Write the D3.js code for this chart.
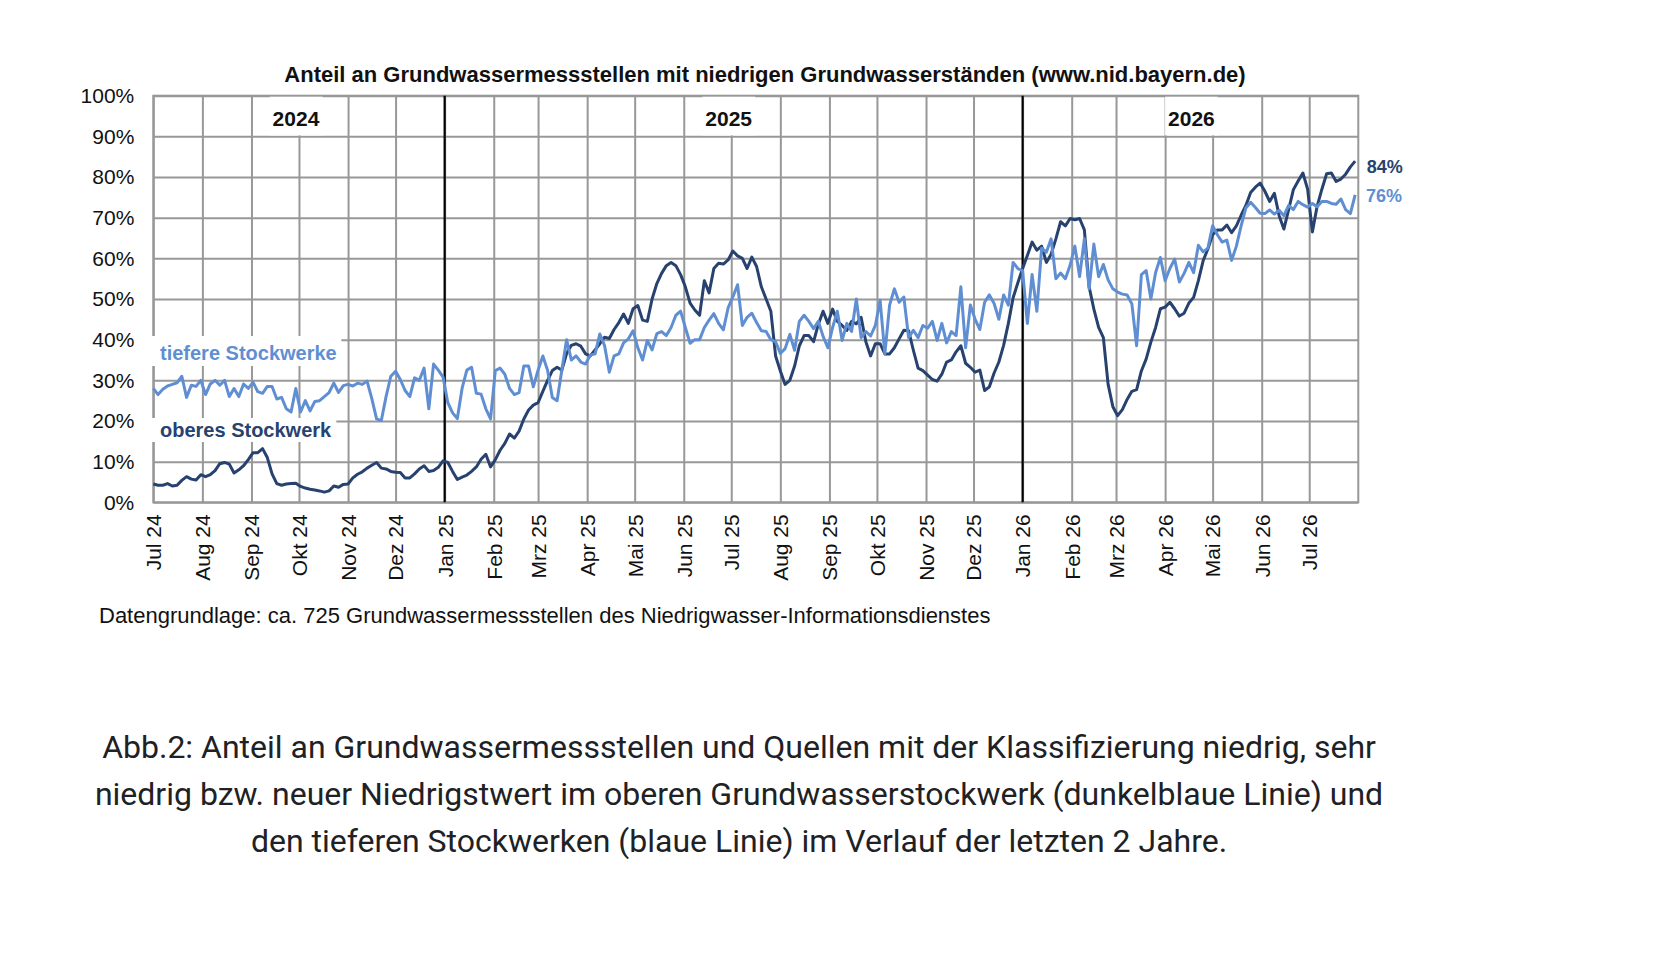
<!DOCTYPE html>
<html>
<head>
<meta charset="utf-8">
<script src="https://cdn.jsdelivr.net/npm/d3@7/dist/d3.min.js"></script>
<style>
  body { margin: 0; background: #fff; }
  svg { display: block; }
</style>
</head>
<body>
<div id="chart"></div>
<script>
// one value every 3 days, starting 1 July 2024 (share of stations in %)
const startDate = '2024-07-01';
const stepDays = 3;

const oberesStockwerk = [
  4.5, 4.2, 4.2, 4.6, 4.0, 4.2, 5.4, 6.3, 5.7, 5.5,
  6.8, 6.3, 6.8, 7.8, 9.5, 9.8, 9.4, 7.2, 8.0, 9.0,
  10.5, 12.2, 12.2, 13.2, 11.0, 7.0, 4.6, 4.2, 4.5, 4.6,
  4.7, 3.9, 3.5, 3.2, 3.0, 2.8, 2.5, 2.8, 4.0, 3.7,
  4.4, 4.5, 6.0, 6.9, 7.5, 8.4, 9.1, 9.8, 8.4, 8.2,
  7.6, 7.4, 7.3, 6.0, 6.0, 7.0, 8.2, 9.0, 7.6, 7.8,
  8.6, 10.2, 9.8, 7.6, 5.6, 6.2, 6.7, 7.6, 8.7, 10.6,
  11.8, 8.7, 10.5, 12.8, 14.5, 16.8, 15.8, 17.5, 20.5, 22.7,
  23.9, 24.5, 27.3, 30.0, 32.4, 33.2, 32.5, 36.6, 38.6, 39.0,
  38.4, 36.5, 36.0, 37.5, 39.0, 40.6, 40.3, 42.5, 44.2, 46.3,
  44.0, 47.6, 48.4, 44.8, 44.5, 50.0, 53.8, 56.3, 58.2, 59.0,
  58.2, 56.0, 53.0, 49.0, 47.3, 46.0, 54.5, 51.5, 57.5, 58.8,
  58.6, 59.6, 61.8, 60.6, 60.0, 57.5, 60.3, 58.0, 53.0, 50.0,
  47.0, 36.0, 32.3, 29.0, 30.0, 33.5, 38.5, 41.0, 41.0, 39.5,
  43.8, 47.0, 44.0, 47.5, 44.5, 43.5, 42.3, 44.5, 43.9, 45.5,
  39.5, 36.0, 39.0, 39.0, 36.5, 36.5, 38.0, 40.2, 42.3, 42.2,
  37.4, 33.0, 32.4, 31.3, 30.2, 29.8, 31.5, 34.5, 35.0, 37.0,
  38.5, 34.2, 33.2, 32.0, 32.5, 27.5, 28.4, 31.8, 34.5, 38.6,
  44.0, 50.3, 54.0, 57.5, 60.7, 64.0, 62.0, 63.0, 59.0, 61.0,
  64.8, 69.0, 68.0, 69.8, 69.5, 69.8, 67.0, 53.0, 47.5, 43.0,
  40.5, 29.0, 23.5, 21.3, 22.8, 25.3, 27.3, 27.7, 32.3, 35.2,
  39.4, 43.0, 47.6, 48.0, 49.2, 47.6, 45.8, 46.5, 49.0, 50.4,
  54.5, 59.4, 62.3, 65.8, 67.0, 67.0, 68.2, 66.3, 68.0, 70.6,
  73.0, 76.2, 77.5, 78.5, 76.5, 74.0, 76.0, 70.5, 67.2, 72.0,
  76.9, 79.0, 81.0, 77.0, 66.5, 72.8, 77.0, 80.8, 81.0, 78.9,
  79.5, 80.7, 82.5, 83.9
];

const tiefereStockwerke = [
  28.0, 26.5, 27.8, 28.6, 29.0, 29.4, 31.0, 25.8, 28.8, 28.5,
  30.0, 26.5, 29.1, 30.0, 28.8, 30.0, 26.0, 28.0, 26.0, 29.1,
  28.0, 29.5, 27.2, 26.8, 28.5, 28.5, 25.4, 25.8, 23.0, 22.2,
  28.0, 22.2, 25.0, 22.5, 24.8, 25.0, 26.0, 27.0, 29.3, 27.0,
  28.7, 29.0, 28.6, 29.3, 29.0, 29.8, 25.5, 20.5, 20.1, 26.0,
  31.0, 32.2, 30.2, 27.5, 26.0, 30.6, 30.0, 33.0, 23.0, 34.0,
  32.5, 30.8, 24.5, 22.0, 20.6, 28.0, 32.5, 33.2, 26.8, 26.6,
  23.0, 20.5, 32.4, 33.0, 31.5, 28.0, 26.5, 27.0, 33.5, 33.5,
  28.4, 32.5, 36.0, 32.5, 25.8, 25.0, 32.5, 40.0, 35.0, 36.0,
  34.5, 34.0, 36.2, 36.5, 41.4, 38.5, 32.0, 36.0, 36.5, 39.2,
  40.2, 42.2, 38.0, 35.0, 39.8, 37.5, 41.5, 42.0, 41.0, 43.0,
  46.0, 47.0, 43.0, 39.1, 40.0, 40.0, 43.0, 44.8, 46.4, 44.0,
  42.4, 47.8, 50.5, 53.5, 43.5, 45.5, 46.5, 44.2, 42.2, 42.0,
  40.0, 39.5, 36.6, 37.8, 41.3, 37.4, 44.5, 46.0, 44.5, 42.7,
  44.5, 40.8, 38.0, 43.0, 47.0, 39.8, 44.0, 42.0, 50.0, 40.5,
  42.0, 40.9, 43.5, 49.7, 36.5, 48.5, 52.5, 49.2, 50.5, 40.5,
  42.3, 40.5, 43.5, 42.8, 44.5, 39.8, 44.0, 39.2, 42.0, 41.0,
  53.0, 38.0, 48.5, 45.0, 42.5, 49.2, 51.0, 48.9, 45.0, 51.0,
  48.5, 59.0, 57.5, 57.0, 44.0, 56.0, 47.0, 62.5, 61.5, 64.8,
  55.0, 56.4, 55.0, 58.3, 63.0, 55.5, 64.8, 52.5, 63.5, 55.5,
  58.5, 54.7, 52.5, 51.7, 51.2, 51.0, 48.8, 38.5, 56.0, 57.0,
  50.0, 56.5, 60.2, 54.5, 57.5, 59.8, 54.2, 56.3, 59.0, 56.5,
  63.2, 61.6, 62.5, 68.0, 65.8, 64.0, 64.5, 59.5, 63.0, 68.0,
  72.4, 73.8, 72.5, 71.1, 71.0, 71.9, 70.9, 71.8, 70.5, 73.0,
  72.0, 74.0, 73.2, 72.6, 73.5, 72.7, 74.0, 74.0, 73.5, 73.3,
  74.6, 72.0, 71.0, 75.6
];

const monthLabels = [
  'Jul 24', 'Aug 24', 'Sep 24', 'Okt 24', 'Nov 24', 'Dez 24',
  'Jan 25', 'Feb 25', 'Mrz 25', 'Apr 25', 'Mai 25', 'Jun 25',
  'Jul 25', 'Aug 25', 'Sep 25', 'Okt 25', 'Nov 25', 'Dez 25',
  'Jan 26', 'Feb 26', 'Mrz 26', 'Apr 26', 'Mai 26', 'Jun 26', 'Jul 26'
];
const yTicks = [0, 10, 20, 30, 40, 50, 60, 70, 80, 90, 100];
const yearLabels = ['2024', '2025', '2026'];
const yearBreaks = ['2025-01-01', '2026-01-01'];
const axisStart = '2024-07-01';
const axisEnd = '2026-08-01';

const titleText = 'Anteil an Grundwassermessstellen mit niedrigen Grundwasserständen (www.nid.bayern.de)';
const sourceText = 'Datengrundlage: ca. 725 Grundwassermessstellen des Niedrigwasser-Informationsdienstes';
const captionLines = [
  'Abb.2: Anteil an Grundwassermessstellen und Quellen mit der Klassifizierung niedrig, sehr',
  'niedrig bzw. neuer Niedrigstwert im oberen Grundwasserstockwerk (dunkelblaue Linie) und',
  'den tieferen Stockwerken (blaue Linie) im Verlauf der letzten 2 Jahre.'
];

const darkBlue = '#27426f';
const lightBlue = '#5f8fd2';
const gridColor = '#989898';
const chartFont = '"Liberation Sans", Arial, sans-serif';

const margin = { top: 95.7, right: 317.7, bottom: 453.7, left: 153.3 };
const fullWidth = 1676;
const fullHeight = 956;
const width = fullWidth - margin.left - margin.right;
const height = fullHeight - margin.top - margin.bottom;

const parse = d3.utcParse('%Y-%m-%d');
const t0 = parse(startDate);
const rows = oberesStockwerk.map((v, i) => ({
  date: d3.utcDay.offset(t0, i * stepDays),
  oben: v,
  tief: tiefereStockwerke[i]
}));

const svg = d3
  .select('#chart')
  .append('svg')
  .attr('width', fullWidth)
  .attr('height', fullHeight);

const group = svg
  .append('g')
  .attr('transform', 'translate(' + margin.left + ',' + margin.top + ')');

const x = d3.scaleUtc().domain([parse(axisStart), parse(axisEnd)]).range([0, width]);
const y = d3.scaleLinear().domain([0, 100]).range([height, 0]);

const monthTicks = d3.utcMonth.range(parse(axisStart), parse(axisEnd));

// vertical grid + rotated month labels
group
  .append('g')
  .attr('transform', `translate(0, ${height})`)
  .call(
    d3.axisBottom(x)
      .tickValues(monthTicks)
      .tickSize(-height)
      .tickFormat((d, i) => monthLabels[i])
  )
  .call((g) => g.select('.domain').remove())
  .call((g) => g.selectAll('.tick line').attr('stroke', gridColor).attr('stroke-width', 2))
  .call((g) =>
    g.selectAll('.tick text')
      .attr('transform', 'rotate(-90)')
      .attr('x', -12)
      .attr('y', 0)
      .attr('dy', '0.35em')
      .attr('text-anchor', 'end')
      .attr('fill', '#111')
      .style('font', `21px ${chartFont}`)
  );

// horizontal grid + percent labels
group
  .append('g')
  .call(
    d3.axisLeft(y)
      .tickValues(yTicks)
      .tickSize(-width)
      .tickPadding(19)
      .tickFormat((d) => d + '%')
  )
  .call((g) => g.select('.domain').remove())
  .call((g) => g.selectAll('.tick line').attr('stroke', gridColor).attr('stroke-width', 2))
  .call((g) =>
    g.selectAll('.tick text')
      .attr('fill', '#111')
      .style('font', `21px ${chartFont}`)
  );

// plot border
group
  .append('rect')
  .attr('width', width)
  .attr('height', height)
  .attr('fill', 'none')
  .attr('stroke', gridColor)
  .attr('stroke-width', 2);

// black year separators
group
  .append('g')
  .selectAll('line')
  .data(yearBreaks)
  .join('line')
  .attr('x1', (d) => x(parse(d)))
  .attr('x2', (d) => x(parse(d)))
  .attr('y1', 0)
  .attr('y2', height)
  .attr('stroke', '#000')
  .attr('stroke-width', 2.2);

// year labels on white boxes
const bounds = [axisStart].concat(yearBreaks, [axisEnd]).map(parse);
const yearNudge = [-3, -5, 1];
yearLabels.forEach((label, i) => {
  const cx = (x(bounds[i]) + x(bounds[i + 1])) / 2 + yearNudge[i];
  const yg = group.append('g');
  const box = yg.append('rect').attr('fill', '#fff');
  const t = yg
    .append('text')
    .attr('x', cx)
    .attr('y', 30.3)
    .attr('text-anchor', 'middle')
    .attr('fill', '#111')
    .style('font', `bold 21px ${chartFont}`)
    .text(label);
  const bb = t.node().getBBox();
  box
    .attr('x', bb.x - 3)
    .attr('y', 1)
    .attr('width', bb.width + 6)
    .attr('height', y(90) - 2);
});

// series labels on white boxes
const seriesLabels = [
  { text: 'tiefere Stockwerke', color: lightBlue, base: 264.3, boxTop: 240.3, boxH: 30, boxW: 192 },
  { text: 'oberes Stockwerk', color: darkBlue, base: 341.3, boxTop: 322.3, boxH: 24, boxW: 187 }
];
seriesLabels.forEach((s) => {
  group
    .append('rect')
    .attr('x', -4)
    .attr('y', s.boxTop)
    .attr('width', s.boxW)
    .attr('height', s.boxH)
    .attr('fill', '#fff');
  group
    .append('text')
    .attr('x', 6.7)
    .attr('y', s.base)
    .attr('fill', s.color)
    .style('font', `bold 20px ${chartFont}`)
    .text(s.text);
});

// the two lines
const lineOben = d3.line().x((d) => x(d.date)).y((d) => y(d.oben));
const lineTief = d3.line().x((d) => x(d.date)).y((d) => y(d.tief));

group
  .append('path')
  .datum(rows)
  .attr('fill', 'none')
  .attr('stroke', darkBlue)
  .attr('stroke-width', 3)
  .attr('stroke-linejoin', 'round')
  .attr('d', lineOben);

group
  .append('path')
  .datum(rows)
  .attr('fill', 'none')
  .attr('stroke', lightBlue)
  .attr('stroke-width', 3)
  .attr('stroke-linejoin', 'round')
  .attr('d', lineTief);

// end values
const last = rows[rows.length - 1];
group
  .append('text')
  .attr('x', width + 8.4)
  .attr('y', y(Math.round(last.oben)) + 6)
  .attr('dy', '0.35em')
  .attr('fill', darkBlue)
  .style('font', `bold 18px ${chartFont}`)
  .text(Math.round(last.oben) + '%');
group
  .append('text')
  .attr('x', width + 7.7)
  .attr('y', y(Math.round(last.tief)) + 2)
  .attr('dy', '0.35em')
  .attr('fill', lightBlue)
  .style('font', `bold 18px ${chartFont}`)
  .text(Math.round(last.tief) + '%');

// title and source line
svg
  .append('text')
  .attr('x', 765)
  .attr('y', 82)
  .attr('text-anchor', 'middle')
  .attr('fill', '#111')
  .style('font', `bold 22px ${chartFont}`)
  .text(titleText);

svg
  .append('text')
  .attr('x', 99)
  .attr('y', 622.5)
  .attr('fill', '#111')
  .style('font', `22px ${chartFont}`)
  .text(sourceText);

// figure caption below the chart image
svg
  .append('g')
  .selectAll('text')
  .data(captionLines)
  .join('text')
  .attr('x', 739)
  .attr('y', (d, i) => 758 + i * 47)
  .attr('text-anchor', 'middle')
  .attr('fill', '#202124')
  .style('font', '32px Roboto, sans-serif')
  .text((d) => d);
</script>
</body>
</html>
